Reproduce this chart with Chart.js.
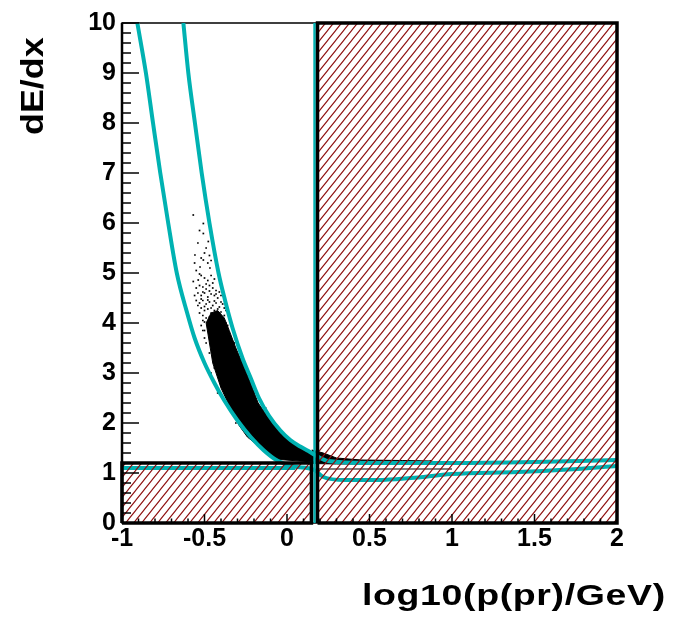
<!DOCTYPE html>
<html>
<head>
<meta charset="utf-8">
<script src="https://cdn.jsdelivr.net/npm/chart.js@4.4.0/dist/chart.umd.min.js"></script>
<style>
  body { margin: 0; background: #fff; }
  #wrap { position: relative; width: 673px; height: 617px; }
  .title { position: absolute; font-family: "Liberation Sans", Arial, sans-serif; font-weight: bold; color: #000; white-space: nowrap; }
  #xtitle { left: 362px; top: 580px; font-size: 30px; line-height: 30px; letter-spacing: 0.5px; transform-origin: 0 0; transform: scaleX(1.25); }
  #ytitle { left: 16px; top: 135px; font-size: 32px; line-height: 32px; transform-origin: 0 0; transform: rotate(-90deg) scaleX(1.12); }
</style>
</head>
<body>
<div id="wrap">
  <canvas id="c" width="673" height="617"></canvas>
  <div class="title" id="xtitle">log10(p(pr)/GeV)</div>
  <div class="title" id="ytitle">dE/dx</div>
</div>
<script>
/* Tick labels */
const xTicks = [-1, -0.5, 0, 0.5, 1, 1.5, 2];
const yTicks = [0, 1, 2, 3, 4, 5, 6, 7, 8, 9, 10];

/* Cyan band limits */
const outerBandX = [-0.907, -0.855, -0.812, -0.768, -0.72, -0.668, -0.605, -0.56, -0.5, -0.44, -0.38, -0.3, -0.22, -0.14, -0.06, 0.04, 0.16, 0.22, 0.35, 0.55, 0.75, 1.0, 1.4, 1.7, 2.0];
const outerBandY = [10, 9, 8, 7, 6, 5, 4.2, 3.7, 3.2, 2.8, 2.45, 2.05, 1.72, 1.45, 1.25, 1.13, 1.07, 0.92, 0.86, 0.86, 0.9, 0.98, 1.02, 1.07, 1.14];
const innerBandX = [-0.628, -0.598, -0.558, -0.517, -0.47, -0.415, -0.376, -0.33, -0.27, -0.22, -0.17, -0.11, -0.04, 0.02, 0.08, 0.13, 0.17, 0.25, 0.5, 1.0, 1.5, 2.0];
const innerBandY = [10, 9, 8, 7, 6, 5, 4.46, 3.9, 3.3, 2.9, 2.5, 2.15, 1.85, 1.66, 1.53, 1.44, 1.36, 1.24, 1.2, 1.2, 1.22, 1.26];
const flatBandX = [-1, 0.05];
const flatBandY = [1.1, 1.1];
const cutLineX = [0.167, 0.167];
const cutLineY = [0, 10];

/* Dense part of the proton band (outline) */
const denseX = [-0.49, -0.48, -0.45, -0.40, -0.35, -0.29, -0.24, -0.15, -0.10, -0.05, 0.16, 0.16, 0.10, 0.02, -0.04, -0.10, -0.175, -0.215, -0.26, -0.31, -0.35, -0.38, -0.42, -0.46, -0.49];
const denseY = [4.0, 3.8, 3.2, 2.7, 2.35, 1.95, 1.72, 1.48, 1.35, 1.27, 1.22, 1.36, 1.48, 1.62, 1.8, 2.05, 2.4, 2.75, 3.12, 3.5, 3.85, 4.1, 4.25, 4.2, 4.0];
const tailX = [0.15, 0.22, 0.30, 0.45, 0.70, 0.88, 0.88, 0.60, 0.30, 0.15];
const tailY = [1.46, 1.40, 1.30, 1.26, 1.25, 1.24, 1.19, 1.18, 1.18, 1.19];
const mipLineX = [0.19, 1.0];
const mipLineY = [1.08, 1.08];

/* Sparse entries */
const sparsePoints = [
  [-0.568, 6.16], [-0.507, 5.99], [-0.507, 5.79], [-0.477, 5.63], [-0.558, 5.36], [-0.507, 5.26],
  [-0.467, 5.10], [-0.527, 5.12], [-0.49, 5.5], [-0.54, 5.6], [-0.53, 5.85], [-0.47, 5.35],
  [-0.55, 5.05], [-0.5, 5.4], [-0.52, 5.3], [-0.48, 5.2], [-0.56, 5.2], [-0.46, 5.25],
  [-0.568, 4.83], [-0.538, 4.86], [-0.52, 4.95], [-0.50, 4.9], [-0.48, 4.85], [-0.46, 4.95],
  [-0.44, 4.88], [-0.55, 4.7], [-0.53, 4.75], [-0.51, 4.72], [-0.49, 4.68], [-0.47, 4.75],
  [-0.45, 4.7], [-0.43, 4.65], [-0.54, 4.6], [-0.52, 4.55], [-0.50, 4.6], [-0.48, 4.52],
  [-0.46, 4.58], [-0.44, 4.55], [-0.42, 4.5], [-0.40, 4.55], [-0.56, 4.55], [-0.53, 4.98],
  [-0.49, 4.78], [-0.45, 4.8], [-0.51, 4.62], [-0.47, 4.64], [-0.43, 4.58], [-0.41, 4.62],
  [-0.55, 4.45], [-0.53, 4.4], [-0.51, 4.45], [-0.49, 4.38], [-0.47, 4.42], [-0.45, 4.35],
  [-0.43, 4.4], [-0.41, 4.32], [-0.39, 4.38], [-0.52, 4.3], [-0.50, 4.25], [-0.48, 4.28],
  [-0.46, 4.2], [-0.44, 4.25], [-0.42, 4.18], [-0.40, 4.22], [-0.38, 4.15], [-0.51, 4.15],
  [-0.49, 4.1], [-0.47, 4.12], [-0.45, 4.05], [-0.43, 4.1], [-0.41, 4.02], [-0.39, 4.06],
  [-0.37, 4.0], [-0.50, 4.02], [-0.36, 3.95], [-0.54, 4.35], [-0.52, 4.48], [-0.50, 4.33],
  [-0.48, 4.46], [-0.46, 4.3], [-0.44, 4.44], [-0.42, 4.28], [-0.40, 4.42], [-0.38, 4.3],
  [-0.53, 4.2], [-0.51, 4.05], [-0.52, 3.95], [-0.51, 3.85], [-0.50, 3.7], [-0.37, 4.25],
  [-0.50, 3.85], [-0.49, 3.6], [-0.47, 3.4], [-0.35, 3.7], [-0.33, 3.45], [-0.31, 3.2],
  [-0.29, 3.0], [-0.27, 2.8], [-0.23, 2.6], [-0.19, 2.4], [-0.15, 2.2], [-0.11, 2.0],
  [-0.07, 1.85], [-0.03, 1.7], [0.02, 1.6], [0.06, 1.5], [-0.44, 3.1], [-0.40, 2.75],
  [-0.35, 2.4], [-0.29, 2.1], [-0.22, 1.8], [-0.15, 1.55], [-0.32, 3.6], [-0.26, 3.0],
  [-0.2, 2.62], [-0.13, 2.3], [-0.46, 3.0], [-0.42, 2.6], [-0.31, 2.0],
  [0.80, 1.23], [0.84, 1.22], [0.87, 1.24], [0.90, 1.22], [0.93, 1.21], [0.96, 1.22]
];

/* Rejected regions */
const lowBoxX = [-1, 0.148];
const lowBoxY = [0, 1.2];
const highBoxX = [0.185, 2];
const highBoxY = [0, 10];

const CYAN = '#00b2b2';

const toXY = (xs, ys) => xs.map((x, i) => ({ x, y: ys[i] }));
const boxPath = (xs, ys) => [
  { x: xs[0], y: ys[0] }, { x: xs[1], y: ys[0] }, { x: xs[1], y: ys[1] },
  { x: xs[0], y: ys[1] }, { x: xs[0], y: ys[0] }
];

/* Red diagonal hatch pattern */
function hatch() {
  const c = document.createElement('canvas');
  c.width = 8; c.height = 10;
  const g = c.getContext('2d');
  g.strokeStyle = '#8e0f0f';
  g.lineWidth = 1.1;
  g.beginPath();
  g.moveTo(-1, 11.25); g.lineTo(9, -1.25);
  g.moveTo(-1, 1.25); g.lineTo(1, -1.25);
  g.moveTo(7, 11.25); g.lineTo(9, 8.75);
  g.stroke();
  return g.createPattern(c, 'repeat');
}
const pattern = hatch();

const lineSet = (data, color, width, order, extra) => Object.assign({
  type: 'line', data, borderColor: color, borderWidth: width, pointRadius: 0,
  fill: false, order, tension: 0
}, extra || {});

/* Frame behind the data */
const frame = {
  id: 'frame',
  beforeDatasetsDraw(chart) {
    const { ctx, chartArea: a } = chart;
    ctx.save();
    ctx.strokeStyle = '#000';
    ctx.lineWidth = 1.5;
    ctx.strokeRect(a.left, a.top, a.right - a.left, a.bottom - a.top);
    ctx.lineWidth = 2.5;
    ctx.beginPath();
    ctx.moveTo(a.left, a.top); ctx.lineTo(a.left, a.bottom);
    ctx.stroke();
    ctx.restore();
  }
};

/* Inward tick marks */
const tickMarks = {
  id: 'tickMarks',
  afterDatasetsDraw(chart) {
    const { ctx, chartArea: a, scales: { x, y } } = chart;
    ctx.save();
    ctx.strokeStyle = '#000';
    ctx.lineWidth = 1.5;
    ctx.beginPath();
    for (let i = 0; i <= 50; i++) {
      const py = y.getPixelForValue(i * 0.2);
      ctx.moveTo(a.left, py);
      ctx.lineTo(a.left + (i % 5 ? 9 : 17), py);
    }
    for (let i = 0; i <= 30; i++) {
      const px = x.getPixelForValue(-1 + i * 0.1);
      ctx.moveTo(px, a.bottom);
      ctx.lineTo(px, a.bottom - (i % 5 ? 4.5 : 9));
    }
    ctx.stroke();
    ctx.restore();
  }
};

const tickFont = { family: '"Liberation Sans", Arial, sans-serif', size: 25, weight: 'bold' };

new Chart(document.getElementById('c'), {
  type: 'scatter',
  data: {
    datasets: [
      /* hatched boxes on top */
      lineSet(boxPath(highBoxX, highBoxY), '#000', 3.5, 0, { fill: 'shape', backgroundColor: pattern, clip: false }),
      lineSet(boxPath(lowBoxX, lowBoxY), '#000', 3.5, 0, { fill: 'shape', backgroundColor: pattern, clip: false }),
      /* cyan band */
      lineSet(toXY(outerBandX, outerBandY), CYAN, 4, 1, { cubicInterpolationMode: 'monotone' }),
      lineSet(toXY(innerBandX, innerBandY), CYAN, 4, 1, { cubicInterpolationMode: 'monotone' }),
      lineSet(toXY(flatBandX, flatBandY), CYAN, 4, 1),
      lineSet(toXY(cutLineX, cutLineY), CYAN, 2.5, 1),
      /* data */
      lineSet(toXY(denseX, denseY), '#000', 1, 2, { fill: 'shape', backgroundColor: '#000' }),
      lineSet(toXY(tailX, tailY), '#000', 1, 2, { fill: 'shape', backgroundColor: '#000' }),
      lineSet(toXY(mipLineX, mipLineY), '#000', 1.2, 2),
      {
        type: 'scatter',
        data: sparsePoints.map(p => ({ x: p[0], y: p[1] })),
        pointStyle: 'rect', pointRadius: 1.2, borderWidth: 0,
        backgroundColor: '#000', order: 2
      }
    ]
  },
  options: {
    responsive: false,
    animation: false,
    layout: { padding: { top: 23, right: 56, left: 0, bottom: 0 } },
    plugins: { legend: { display: false }, tooltip: { enabled: false } },
    scales: {
      x: {
        type: 'linear', min: -1, max: 2,
        afterBuildTicks: s => { s.ticks = xTicks.map(v => ({ value: v })); },
        afterFit: s => { s.height = 94; s.paddingLeft = 0; s.paddingRight = 0; },
        grid: { display: false, drawTicks: false },
        border: { display: false },
        ticks: { font: tickFont, color: '#000', padding: 1, maxRotation: 0, autoSkip: false, callback: v => String(v) }
      },
      y: {
        type: 'linear', min: 0, max: 10,
        afterBuildTicks: s => { s.ticks = yTicks.map(v => ({ value: v })); },
        afterFit: s => { s.width = 122; s.paddingTop = 0; s.paddingBottom = 0; },
        grid: { display: false, drawTicks: false },
        border: { display: false },
        ticks: { font: tickFont, color: '#000', padding: 6, autoSkip: false, callback: v => String(v) }
      }
    }
  },
  plugins: [frame, tickMarks]
});
</script>
</body>
</html>
